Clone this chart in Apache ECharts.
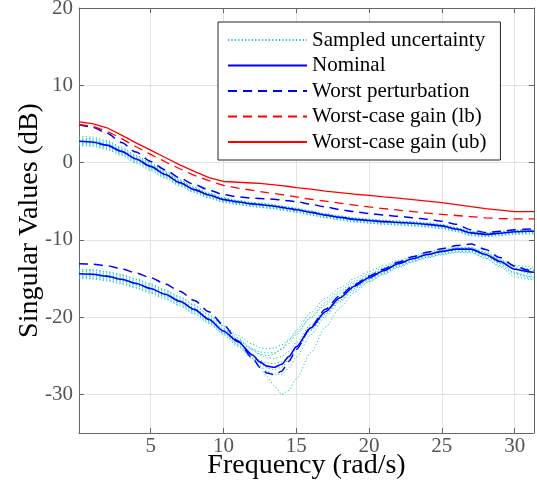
<!DOCTYPE html>
<html>
<head>
<meta charset="utf-8">
<script src="https://cdn.jsdelivr.net/npm/echarts@6/dist/echarts.min.js"></script>
<style>
html,body{margin:0;padding:0;background:#fff;}
#chart{width:537px;height:497px;}
</style>
</head>
<body>
<div id="chart"></div>
<script>
// ---- data ----
const freq = [0.08,1,2,3,4,5,6,7,8,9,10,11,12,12.5,13,13.5,14,14.5,15,16,17,18,19,20,21,22,23,24,25,26,27,28,29,30,31,31.33];
const xTicks = [5,10,15,20,25,30];
const yTicks = [-30,-20,-10,0,10,20];

const nominalUpper = [2.75,2.65,2.25,1.45,0.45,-0.5,-1.55,-2.6,-3.5,-4.2,-4.8,-5.1,-5.35,-5.45,-5.55,-5.65,-5.8,-5.95,-6.1,-6.45,-6.8,-7.1,-7.35,-7.5,-7.65,-7.75,-7.85,-8.0,-8.2,-8.6,-9.1,-9.3,-9.15,-8.95,-8.9,-8.9];
const nominalLower = [-14.4,-14.45,-14.7,-15.1,-15.65,-16.3,-17.05,-17.95,-19.0,-20.3,-21.8,-23.2,-24.9,-25.8,-26.35,-26.5,-26.1,-25.1,-23.85,-21.4,-19.3,-17.5,-16.0,-14.9,-14.0,-13.1,-12.45,-11.9,-11.5,-11.2,-11.2,-11.9,-12.8,-13.8,-14.15,-14.2];

const worstUpper = [4.9,4.6,3.8,2.6,1.35,0.15,-0.95,-2.0,-2.85,-3.55,-4.15,-4.45,-4.6,-4.65,-4.7,-4.75,-4.85,-4.95,-5.05,-5.4,-5.75,-6.1,-6.35,-6.6,-6.8,-6.95,-7.15,-7.35,-7.6,-8.0,-8.7,-9.05,-8.9,-8.7,-8.6,-8.55];
const worstLower = [-13.1,-13.15,-13.35,-13.75,-14.3,-14.9,-15.7,-16.65,-17.85,-19.3,-21.0,-23.1,-25.3,-26.5,-27.25,-27.45,-27.0,-25.7,-24.2,-21.3,-19.0,-17.2,-15.8,-14.7,-13.8,-12.9,-12.2,-11.6,-11.15,-10.75,-10.55,-11.25,-12.3,-13.4,-13.95,-14.0];

const gainLB = [4.95,4.7,4.05,3.1,2.05,1.05,0.1,-0.8,-1.65,-2.35,-2.95,-3.3,-3.6,-3.75,-3.9,-4.0,-4.15,-4.3,-4.45,-4.75,-5.0,-5.25,-5.5,-5.75,-5.95,-6.15,-6.35,-6.55,-6.7,-6.85,-7.0,-7.15,-7.25,-7.3,-7.3,-7.3];
const gainUB = [5.25,5.05,4.5,3.55,2.55,1.6,0.65,-0.3,-1.15,-1.95,-2.45,-2.55,-2.65,-2.7,-2.8,-2.9,-3.0,-3.1,-3.25,-3.45,-3.7,-3.9,-4.1,-4.25,-4.45,-4.6,-4.8,-5.0,-5.2,-5.45,-5.7,-5.95,-6.15,-6.35,-6.35,-6.35];

const sampledUpper = [
 [3.4,3.3,2.85,2.0,0.95,-0.05,-1.15,-2.25,-3.2,-3.95,-4.55,-4.9,-5.15,-5.25,-5.35,-5.45,-5.6,-5.75,-5.9,-6.25,-6.6,-6.9,-7.15,-7.3,-7.45,-7.55,-7.65,-7.8,-8.0,-8.4,-8.9,-9.1,-8.95,-8.75,-8.7,-8.7],
 [2.2,2.1,1.7,0.9,-0.1,-1.05,-2.05,-3.05,-3.9,-4.6,-5.15,-5.45,-5.7,-5.8,-5.9,-6.0,-6.15,-6.3,-6.45,-6.8,-7.15,-7.45,-7.7,-7.85,-8.0,-8.1,-8.2,-8.35,-8.55,-8.95,-9.45,-9.6,-9.45,-9.3,-9.25,-9.25],
 [3.0,2.9,2.5,1.7,0.7,-0.3,-1.35,-2.4,-3.35,-4.05,-4.65,-4.95,-5.25,-5.35,-5.45,-5.55,-5.7,-5.85,-6.0,-6.35,-6.7,-7.0,-7.25,-7.4,-7.55,-7.65,-7.75,-7.9,-8.1,-8.5,-9.0,-9.2,-9.05,-8.85,-8.8,-8.8],
 [2.5,2.4,2.0,1.2,0.2,-0.75,-1.8,-2.8,-3.7,-4.4,-5.0,-5.3,-5.55,-5.65,-5.75,-5.85,-6.0,-6.15,-6.3,-6.65,-7.0,-7.3,-7.55,-7.7,-7.85,-7.95,-8.05,-8.2,-8.4,-8.8,-9.3,-9.45,-9.3,-9.1,-9.05,-9.05],
 [3.2,3.1,2.7,1.85,0.85,-0.15,-1.25,-2.3,-3.25,-4.0,-4.6,-4.95,-5.2,-5.3,-5.4,-5.5,-5.65,-5.8,-5.95,-6.3,-6.65,-6.95,-7.2,-7.35,-7.5,-7.6,-7.7,-7.85,-8.05,-8.45,-8.95,-9.15,-9.0,-8.8,-8.75,-8.75],
 [2.35,2.25,1.85,1.05,0.05,-0.9,-1.95,-2.95,-3.8,-4.5,-5.1,-5.4,-5.65,-5.75,-5.85,-5.95,-6.1,-6.25,-6.4,-6.75,-7.1,-7.4,-7.65,-7.8,-7.95,-8.05,-8.15,-8.3,-8.5,-8.9,-9.4,-9.55,-9.4,-9.2,-9.15,-9.15],
 [2.9,2.8,2.4,1.6,0.6,-0.4,-1.45,-2.5,-3.4,-4.1,-4.7,-5.05,-5.3,-5.4,-5.5,-5.6,-5.75,-5.9,-6.05,-6.4,-6.75,-7.05,-7.3,-7.45,-7.6,-7.7,-7.8,-7.95,-8.15,-8.55,-9.05,-9.25,-9.1,-8.9,-8.85,-8.85],
 [2.6,2.5,2.1,1.3,0.3,-0.65,-1.7,-2.7,-3.6,-4.3,-4.9,-5.2,-5.45,-5.55,-5.65,-5.75,-5.9,-6.05,-6.2,-6.55,-6.9,-7.2,-7.45,-7.6,-7.75,-7.85,-7.95,-8.1,-8.3,-8.7,-9.2,-9.35,-9.2,-9.0,-8.95,-8.95]
];
const sampledLower = [
 [-13.9,-13.95,-14.2,-14.6,-15.15,-15.8,-16.55,-17.45,-18.5,-19.75,-21.1,-22.4,-23.5,-23.95,-24.1,-24.0,-23.6,-22.9,-22.0,-20.1,-18.4,-16.9,-15.6,-14.6,-13.75,-12.95,-12.35,-11.85,-11.5,-11.25,-11.35,-12.1,-13.0,-13.7,-13.9,-13.95],
 [-14.9,-14.95,-15.2,-15.6,-16.15,-16.8,-17.55,-18.45,-19.45,-20.7,-22.1,-23.6,-25.4,-26.5,-27.7,-28.9,-30.0,-29.5,-28.0,-24.6,-21.3,-18.8,-16.8,-15.4,-14.4,-13.5,-12.8,-12.25,-11.85,-11.55,-11.6,-12.35,-13.35,-14.45,-14.95,-15.05],
 [-14.1,-14.15,-14.4,-14.8,-15.35,-16.0,-16.75,-17.7,-18.75,-20.05,-21.5,-22.9,-24.1,-24.5,-24.65,-24.6,-24.2,-23.4,-22.3,-20.0,-18.1,-16.6,-15.35,-14.4,-13.6,-12.85,-12.25,-11.75,-11.35,-11.05,-11.15,-11.8,-12.7,-13.5,-13.7,-13.75],
 [-14.7,-14.75,-15.0,-15.4,-15.95,-16.6,-17.35,-18.25,-19.3,-20.6,-22.1,-23.6,-25.2,-26.0,-26.6,-26.8,-26.5,-25.5,-24.2,-21.7,-19.6,-17.8,-16.3,-15.2,-14.3,-13.4,-12.75,-12.2,-11.8,-11.5,-11.5,-12.1,-13.1,-14.3,-14.7,-14.8],
 [-14.3,-14.35,-14.6,-15.0,-15.55,-16.2,-16.95,-17.85,-18.9,-20.15,-21.6,-23.0,-24.3,-24.9,-25.25,-25.35,-25.1,-24.4,-23.3,-21.0,-19.0,-17.3,-15.85,-14.8,-13.9,-13.05,-12.4,-11.85,-11.45,-11.1,-11.0,-11.6,-12.6,-13.8,-14.4,-14.5],
 [-15.0,-15.05,-15.3,-15.7,-16.25,-16.9,-17.65,-18.55,-19.6,-20.85,-22.3,-23.8,-25.4,-26.3,-27.0,-27.4,-27.4,-26.6,-25.2,-22.3,-19.9,-18.0,-16.5,-15.4,-14.5,-13.6,-12.9,-12.35,-11.95,-11.65,-11.7,-12.4,-13.5,-14.8,-15.1,-15.15],
 [-13.8,-13.85,-14.1,-14.5,-15.05,-15.7,-16.45,-17.35,-18.4,-19.7,-21.2,-22.7,-24.2,-24.8,-25.0,-24.8,-24.1,-23.0,-21.7,-19.4,-17.6,-16.2,-15.0,-14.1,-13.35,-12.65,-12.1,-11.6,-11.2,-10.95,-11.0,-11.65,-12.55,-13.3,-13.5,-13.55],
 [-14.55,-14.6,-14.85,-15.25,-15.8,-16.45,-17.2,-18.1,-19.15,-20.45,-21.95,-23.35,-24.9,-25.6,-25.95,-26.0,-25.8,-25.1,-24.0,-21.7,-19.6,-17.8,-16.25,-15.1,-14.2,-13.3,-12.6,-12.05,-11.65,-11.35,-11.3,-11.95,-13.0,-14.2,-14.75,-14.85]
];

const names = ['Sampled uncertainty','Nominal','Worst perturbation','Worst-case gain (lb)','Worst-case gain (ub)'];
const xMin = 0.08, xMax = 31.33, yMin = -35, yMax = 20;

// ---- build ----
const FONT = 'Liberation Serif';
const AXC = '#666';
const pairs = v => freq.map((f, i) => [f, v[i]]);
function line(name, vals, color, width, type, smooth, z) {
  return {
    type: 'line', name: name, data: pairs(vals), symbol: 'none', showSymbol: false,
    smooth: smooth, smoothMonotone: 'x', z: z,
    lineStyle: { color: color, width: width, type: type },
    itemStyle: { color: color },
    emphasis: { disabled: true }, silent: true
  };
}
const series = [];
sampledUpper.forEach(v => series.push(line(names[0], v, '#14c4c4', 1, [1.2, 2.2], 0.25, 2)));
sampledLower.forEach(v => series.push(line(names[0], v, '#14c4c4', 1, [1.2, 2.2], 0.25, 2)));
series.push(line(names[1], nominalUpper, '#0000ff', 1.6, 'solid', 0.25, 3));
series.push(line(names[1], nominalLower, '#0000ff', 1.6, 'solid', 0.25, 3));
series.push(line(names[2], worstUpper, '#0000ff', 1.5, [9, 6], 0.25, 4));
series.push(line(names[2], worstLower, '#0000ff', 1.5, [9, 6], 0.25, 4));
series.push(line(names[3], gainLB, '#ff0000', 1.3, [9, 6], false, 5));
series.push(line(names[4], gainUB, '#ff0000', 1.3, 'solid', false, 5));

function mainAxis(isX) {
  const ticks = isX ? xTicks : yTicks;
  return {
    type: 'value', min: isX ? xMin : yMin, max: isX ? xMax : yMax,
    position: isX ? 'bottom' : 'left',
    name: isX ? 'Frequency (rad/s)' : 'Singular Values (dB)',
    nameLocation: 'middle', nameGap: isX ? 19 : 35, nameMoveOverlap: false,
    nameTextStyle: { fontFamily: FONT, fontSize: 28, color: '#000' },
    axisLine: { show: true, onZero: false, lineStyle: { color: AXC, width: 1 } },
    axisTick: { show: true, inside: true, length: 5, customValues: ticks, lineStyle: { color: AXC } },
    axisLabel: { show: true, customValues: ticks, fontFamily: FONT, fontSize: 21, color: '#555', margin: isX ? 3 : 6 },
    splitLine: { show: true, lineStyle: { color: '#e2e2e2', width: 1 } }
  };
}
function boxAxis(isX) {
  const ticks = isX ? xTicks : yTicks;
  return {
    type: 'value', min: isX ? xMin : yMin, max: isX ? xMax : yMax,
    position: isX ? 'top' : 'right',
    axisLine: { show: true, onZero: false, lineStyle: { color: AXC, width: 1 } },
    axisTick: { show: true, inside: true, length: 5, customValues: ticks, lineStyle: { color: AXC } },
    axisLabel: { show: false },
    splitLine: { show: false }
  };
}

const option = {
  animation: false,
  backgroundColor: '#fff',
  grid: { left: 79, right: 3, top: 8, bottom: 64, outerBoundsMode: 'none' },
  xAxis: [mainAxis(true), boxAxis(true)],
  yAxis: [mainAxis(false), boxAxis(false)],
  legend: {
    data: names, orient: 'vertical', left: 218, top: 22,
    padding: [7, 14, 7, 9], itemWidth: 79, itemHeight: 12, itemGap: 3.5,
    backgroundColor: '#fff', borderColor: '#262626', borderWidth: 1,
    selectedMode: false,
    itemStyle: { opacity: 0, borderWidth: 0 },
    textStyle: { fontFamily: FONT, fontSize: 21, color: '#000', lineHeight: 22 }
  },
  series: series
};
const chart = echarts.init(document.getElementById('chart'), null, { renderer: 'canvas' });
chart.setOption(option);
</script>
</body>
</html>
